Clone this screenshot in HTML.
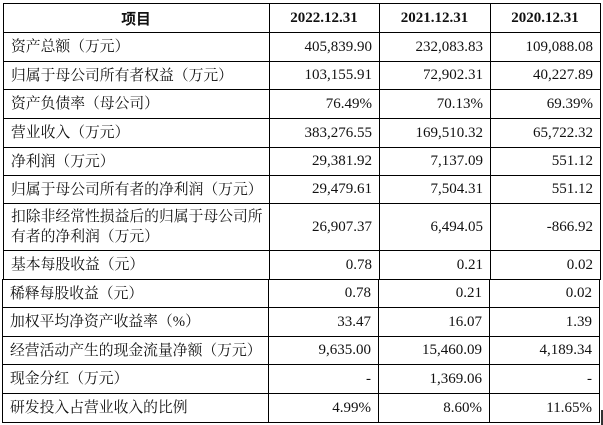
<!DOCTYPE html>
<html>
<head>
<meta charset="utf-8">
<style>
html,body{margin:0;padding:0;}
body{width:603px;height:425px;background:#fff;position:relative;overflow:hidden;color:#111;}
.h{position:absolute;height:1px;background:#000;}
.v{position:absolute;width:1px;background:#000;}
.r{position:absolute;left:0;width:603px;}
.l{position:absolute;left:11px;top:0;bottom:0;display:flex;align-items:center;font-family:"Liberation Serif","Noto Serif CJK SC",serif;font-size:14.8px;line-height:20px;white-space:nowrap;}
.n{position:absolute;top:0;bottom:0;display:flex;align-items:center;justify-content:flex-end;font-family:"Liberation Serif",serif;font-size:15px;white-space:nowrap;}
.c{position:absolute;top:0;bottom:0;display:flex;align-items:center;justify-content:center;font-family:"Liberation Serif","Noto Serif CJK SC",serif;font-size:15px;font-weight:bold;white-space:nowrap;}
.t .a{left:269px;width:103px;} .t .b{left:379px;width:104px;} .t .d{left:490px;width:103px;}
.u .a{left:268px;width:103px;} .u .b{left:378px;width:104px;} .u .d{left:489px;width:103px;}
.u .l{left:10px;}
</style>
</head>
<body>
<!-- top section horizontal lines -->
<div class="h" style="left:3px;width:598px;top:3px"></div>
<div class="h" style="left:3px;width:598px;top:32px"></div>
<div class="h" style="left:3px;width:598px;top:61px"></div>
<div class="h" style="left:3px;width:598px;top:89px"></div>
<div class="h" style="left:3px;width:598px;top:118px"></div>
<div class="h" style="left:3px;width:598px;top:147px"></div>
<div class="h" style="left:3px;width:598px;top:175px"></div>
<div class="h" style="left:3px;width:598px;top:203px"></div>
<div class="h" style="left:3px;width:598px;top:250px"></div>
<div class="h" style="left:2px;width:599px;top:279px"></div>
<!-- bottom section horizontal lines -->
<div class="h" style="left:2px;width:598px;top:307px"></div>
<div class="h" style="left:2px;width:598px;top:336px"></div>
<div class="h" style="left:2px;width:598px;top:364px"></div>
<div class="h" style="left:2px;width:598px;top:393px"></div>
<div class="h" style="left:2px;width:598px;top:422px"></div>
<!-- top verticals -->
<div class="v" style="left:3px;top:3px;height:277px"></div>
<div class="v" style="left:269px;top:3px;height:277px"></div>
<div class="v" style="left:379px;top:3px;height:277px"></div>
<div class="v" style="left:490px;top:3px;height:277px"></div>
<div class="v" style="left:600px;top:3px;height:277px"></div>
<!-- bottom verticals -->
<div class="v" style="left:2px;top:279px;height:144px"></div>
<div class="v" style="left:268px;top:279px;height:144px"></div>
<div class="v" style="left:378px;top:279px;height:144px"></div>
<div class="v" style="left:489px;top:279px;height:144px"></div>
<div class="v" style="left:599px;top:279px;height:144px"></div>
<!-- side mark -->
<div style="position:absolute;left:601px;top:410px;width:2px;height:15px;background:#333"></div>

<!-- header -->
<div class="r t" style="top:4px;height:28px">
  <div class="c" style="left:3px;width:266px;font-family:'Noto Sans CJK SC',sans-serif;font-size:14.8px;">项目</div>
  <div class="c" style="left:269px;width:110px">2022.12.31</div>
  <div class="c" style="left:379px;width:111px">2021.12.31</div>
  <div class="c" style="left:490px;width:110px">2020.12.31</div>
</div>

<div class="r t" style="top:33px;height:28px">
  <div class="l">资产总额（万元）</div>
  <div class="n a">405,839.90</div><div class="n b">232,083.83</div><div class="n d">109,088.08</div>
</div>
<div class="r t" style="top:62px;height:27px">
  <div class="l">归属于母公司所有者权益（万元）</div>
  <div class="n a">103,155.91</div><div class="n b">72,902.31</div><div class="n d">40,227.89</div>
</div>
<div class="r t" style="top:90px;height:28px">
  <div class="l">资产负债率（母公司）</div>
  <div class="n a">76.49%</div><div class="n b">70.13%</div><div class="n d">69.39%</div>
</div>
<div class="r t" style="top:119px;height:28px">
  <div class="l">营业收入（万元）</div>
  <div class="n a">383,276.55</div><div class="n b">169,510.32</div><div class="n d">65,722.32</div>
</div>
<div class="r t" style="top:148px;height:27px">
  <div class="l">净利润（万元）</div>
  <div class="n a">29,381.92</div><div class="n b">7,137.09</div><div class="n d">551.12</div>
</div>
<div class="r t" style="top:176px;height:27px">
  <div class="l">归属于母公司所有者的净利润（万元）</div>
  <div class="n a">29,479.61</div><div class="n b">7,504.31</div><div class="n d">551.12</div>
</div>
<div class="r t" style="top:204px;height:46px">
  <div class="l">扣除非经常性损益后的归属于母公司所<br>有者的净利润（万元）</div>
  <div class="n a">26,907.37</div><div class="n b">6,494.05</div><div class="n d">-866.92</div>
</div>
<div class="r t" style="top:251px;height:28px">
  <div class="l">基本每股收益（元）</div>
  <div class="n a">0.78</div><div class="n b">0.21</div><div class="n d">0.02</div>
</div>

<div class="r u" style="top:280px;height:27px">
  <div class="l">稀释每股收益（元）</div>
  <div class="n a">0.78</div><div class="n b">0.21</div><div class="n d">0.02</div>
</div>
<div class="r u" style="top:308px;height:28px">
  <div class="l">加权平均净资产收益率（%）</div>
  <div class="n a">33.47</div><div class="n b">16.07</div><div class="n d">1.39</div>
</div>
<div class="r u" style="top:337px;height:27px">
  <div class="l">经营活动产生的现金流量净额（万元）</div>
  <div class="n a">9,635.00</div><div class="n b">15,460.09</div><div class="n d">4,189.34</div>
</div>
<div class="r u" style="top:365px;height:28px">
  <div class="l">现金分红（万元）</div>
  <div class="n a">-</div><div class="n b">1,369.06</div><div class="n d">-</div>
</div>
<div class="r u" style="top:394px;height:28px">
  <div class="l">研发投入占营业收入的比例</div>
  <div class="n a">4.99%</div><div class="n b">8.60%</div><div class="n d">11.65%</div>
</div>
</body>
</html>
